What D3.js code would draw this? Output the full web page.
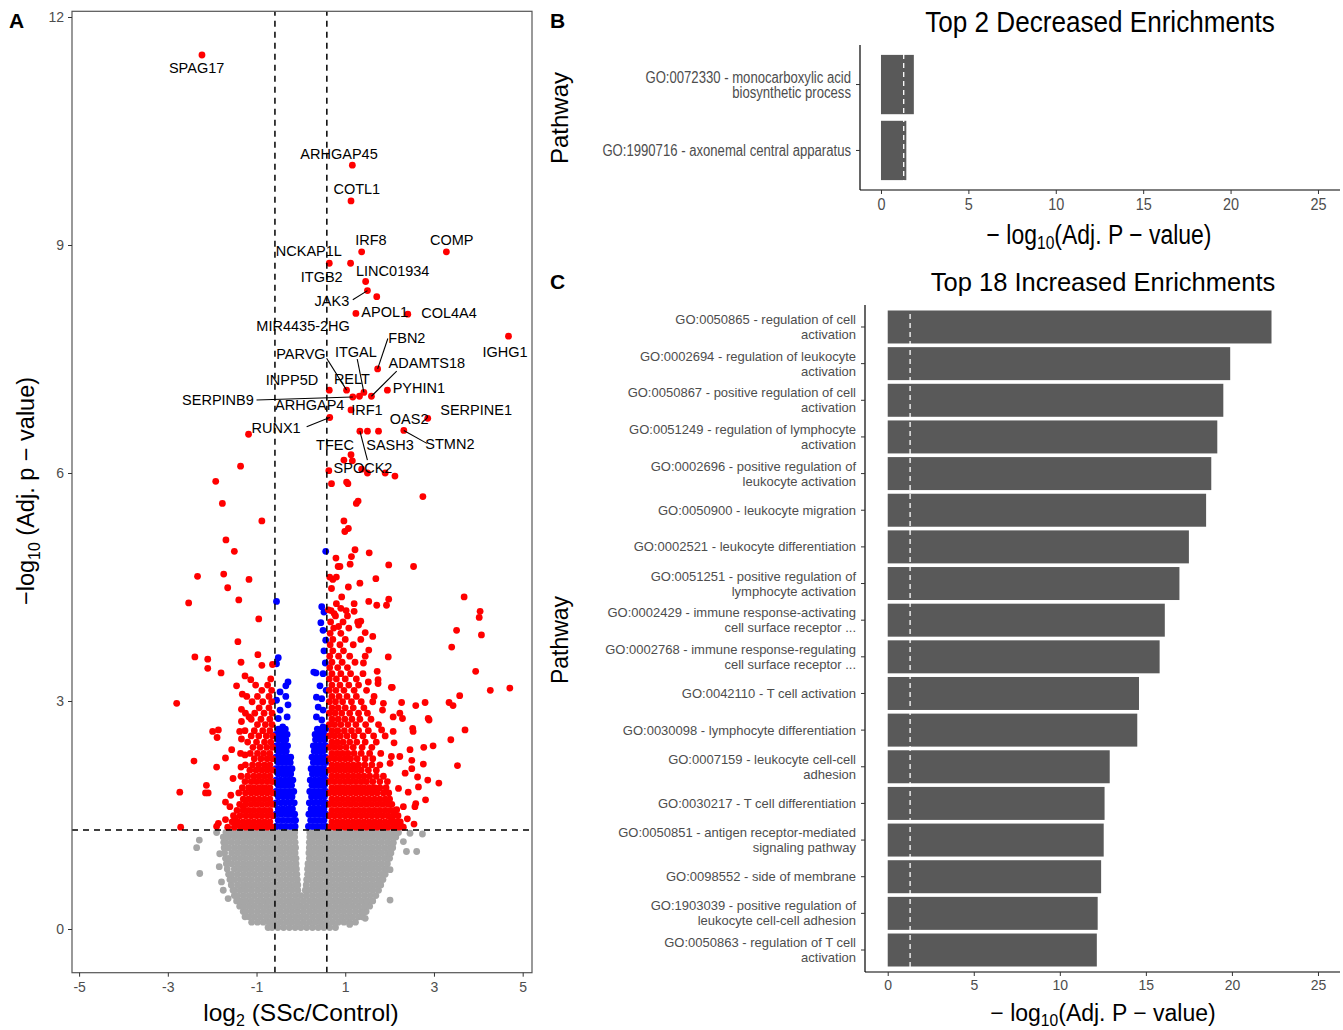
<!DOCTYPE html>
<html><head><meta charset="utf-8">
<script src="https://cdnjs.cloudflare.com/ajax/libs/d3/7.8.5/d3.min.js"></script>
<style>
body{margin:0;background:#fff}
svg{display:block}
text{font-family:"Liberation Sans",Arial,sans-serif}
</style>
</head><body>
<svg id="c" width="1343" height="1030"></svg>
<script>
// ---------------- DATA: panel A (volcano) ----------------
const xTicksA = [-5,-3,-1,1,3,5];
const yTicksA = [0,3,6,9,12];
const fcCut = 0.585;      // log2(1.5)
const pCut = 1.301;       // -log10(0.05)

// non-significant genes (grey), rows of [y, [x...]]
const grayRows = [
[0.02,[-0.74,-0.65,-0.52,-0.39,-0.26,-0.13,0.00,0.13,0.26,0.39,0.52,0.65,0.78]],
[0.09,[-1.11,-0.98,-0.85,-0.72,-0.59,-0.46,-0.33,-0.20,-0.07,0.06,0.19,0.32,0.45,0.58,0.71,0.84,0.97,1.10,1.23]],
[0.16,[-1.26,-1.17,-1.04,-0.91,-0.78,-0.65,-0.52,-0.39,-0.26,-0.13,0.00,0.13,0.26,0.39,0.52,0.65,0.78,0.91,1.04,1.17,1.30,1.38]],
[0.23,[-1.30,-1.24,-1.11,-0.98,-0.85,-0.72,-0.59,-0.46,-0.33,-0.20,-0.07,0.06,0.19,0.32,0.45,0.58,0.71,0.84,0.97,1.10,1.23,1.36,1.47]],
[0.30,[-1.38,-1.30,-1.17,-1.04,-0.91,-0.78,-0.65,-0.52,-0.39,-0.26,-0.13,0.00,0.13,0.26,0.39,0.52,0.65,0.78,0.91,1.04,1.17,1.30,1.43,1.55]],
[0.37,[-1.45,-1.37,-1.24,-1.11,-0.98,-0.85,-0.72,-0.59,-0.46,-0.33,-0.20,-0.07,0.06,0.19,0.32,0.45,0.58,0.71,0.84,0.97,1.10,1.23,1.36,1.49,1.62]],
[0.44,[-1.50,-1.43,-1.30,-1.17,-1.04,-0.91,-0.78,-0.65,-0.52,-0.39,-0.26,-0.13,0.00,0.13,0.26,0.39,0.52,0.65,0.78,0.91,1.04,1.17,1.30,1.43,1.56,1.69]],
[0.51,[-1.53,-1.50,-1.37,-1.24,-1.11,-0.98,-0.85,-0.72,-0.59,-0.46,-0.33,-0.20,-0.07,0.10,0.19,0.32,0.45,0.58,0.71,0.84,0.97,1.10,1.23,1.36,1.49,1.62,1.75]],
[0.58,[-1.57,-1.43,-1.30,-1.17,-1.04,-0.91,-0.78,-0.65,-0.52,-0.39,-0.26,-0.13,-0.07,0.12,0.26,0.39,0.52,0.65,0.78,0.91,1.04,1.17,1.30,1.43,1.56,1.69,1.80]],
[0.65,[-1.60,-1.50,-1.37,-1.24,-1.11,-0.98,-0.85,-0.72,-0.59,-0.46,-0.33,-0.20,-0.08,0.13,0.19,0.32,0.45,0.58,0.71,0.84,0.97,1.10,1.23,1.36,1.49,1.62,1.75,1.85]],
[0.72,[-1.63,-1.56,-1.43,-1.30,-1.17,-1.04,-0.91,-0.78,-0.65,-0.52,-0.39,-0.26,-0.13,-0.09,0.15,0.26,0.39,0.52,0.65,0.78,0.91,1.04,1.17,1.30,1.43,1.56,1.69,1.82,1.90]],
[0.79,[-1.66,-1.50,-1.37,-1.24,-1.11,-0.98,-0.85,-0.72,-0.59,-0.46,-0.33,-0.20,-0.10,0.15,0.19,0.32,0.45,0.58,0.71,0.84,0.97,1.10,1.23,1.36,1.49,1.62,1.75,1.88,1.94]],
[0.86,[-1.68,-1.56,-1.43,-1.30,-1.17,-1.04,-0.91,-0.78,-0.65,-0.52,-0.39,-0.26,-0.13,-0.11,0.16,0.26,0.39,0.52,0.65,0.78,0.91,1.04,1.17,1.30,1.43,1.56,1.69,1.82,1.95]],
[0.93,[-1.70,-1.63,-1.50,-1.37,-1.24,-1.11,-0.98,-0.85,-0.72,-0.59,-0.46,-0.33,-0.20,-0.11,0.19,0.32,0.45,0.58,0.71,0.84,0.97,1.10,1.23,1.36,1.49,1.62,1.75,1.88,2.00]],
[1.00,[-1.72,-1.56,-1.43,-1.30,-1.17,-1.04,-0.91,-0.78,-0.65,-0.52,-0.39,-0.26,-0.13,0.18,0.26,0.39,0.52,0.65,0.78,0.91,1.04,1.17,1.30,1.43,1.56,1.69,1.82,1.95,2.03]],
[1.07,[-1.73,-1.63,-1.50,-1.37,-1.24,-1.11,-0.98,-0.85,-0.72,-0.59,-0.46,-0.33,-0.20,-0.12,0.19,0.32,0.45,0.58,0.71,0.84,0.97,1.10,1.23,1.36,1.49,1.62,1.75,1.88,2.01,2.07]],
[1.14,[-1.74,-1.69,-1.56,-1.43,-1.30,-1.17,-1.04,-0.91,-0.78,-0.65,-0.52,-0.39,-0.26,-0.13,0.19,0.26,0.39,0.52,0.65,0.78,0.91,1.04,1.17,1.30,1.43,1.56,1.69,1.82,1.95,2.08]],
[1.21,[-1.75,-1.63,-1.50,-1.37,-1.24,-1.11,-0.98,-0.85,-0.72,-0.59,-0.46,-0.33,-0.20,-0.14,0.20,0.32,0.45,0.58,0.71,0.84,0.97,1.10,1.23,1.36,1.49,1.62,1.75,1.88,2.01,2.14]],
[1.27,[-1.69,-1.56,-1.43,-1.30,-1.17,-1.04,-0.91,-0.78,-0.65,-0.52,-0.39,-0.26,-0.14,0.20,0.26,0.39,0.52,0.65,0.78,0.91,1.04,1.17,1.30,1.43,1.56,1.69,1.82,1.95,2.08,2.20]]
];
const grayExtra = [[-1.90,1.27],[-2.29,1.17],[-2.35,1.07],[-2.28,0.73],[-1.83,0.99],[-1.84,0.82],[-1.79,0.62],[-1.75,0.51],[-1.64,0.40],
[2.16,1.27],[2.46,1.26],[2.74,1.25],[2.38,1.02],[2.61,1.02],[2.08,1.13],[2.31,1.15],[2.01,0.78],[2.01,0.38],[1.40,0.21],[1.45,0.14],[1.10,0.06]];

// significant but small fold change (blue)
const blueRows = [
[1.35,[-0.56,-0.45,-0.34,-0.23,-0.13, 0.17,0.27,0.37,0.47,0.56]],
[1.43,[-0.51,-0.40,-0.29,-0.18,-0.12, 0.22,0.32,0.42,0.52]],
[1.51,[-0.56,-0.45,-0.34,-0.24,-0.14, 0.18,0.28,0.38,0.48,0.56]],
[1.58,[-0.51,-0.40,-0.29,-0.19, 0.23,0.33,0.43,0.52]],
[1.66,[-0.56,-0.45,-0.35,-0.25,-0.15, 0.19,0.29,0.39,0.49,0.56]],
[1.74,[-0.51,-0.40,-0.30,-0.20, 0.24,0.34,0.44,0.53]],
[1.81,[-0.56,-0.46,-0.36,-0.26,-0.16, 0.20,0.30,0.40,0.50,0.56]],
[1.89,[-0.51,-0.41,-0.31,-0.21, 0.25,0.35,0.45,0.53]],
[1.96,[-0.56,-0.46,-0.36,-0.27,-0.18, 0.21,0.31,0.41,0.50,0.56]],
[2.04,[-0.51,-0.41,-0.32,-0.23, 0.26,0.36,0.46,0.54]],
[2.11,[-0.56,-0.46,-0.37,-0.28,-0.20, 0.23,0.33,0.43,0.52]],
[2.19,[-0.51,-0.42,-0.33,-0.24, 0.28,0.38,0.48,0.56]],
[2.26,[-0.56,-0.47,-0.38,-0.29,-0.23, 0.25,0.35,0.45,0.55]],
[2.34,[-0.51,-0.42,-0.33, 0.30,0.40,0.50]],
[2.41,[-0.56,-0.47,-0.38,-0.30, 0.28,0.38,0.48,0.56]],
[2.49,[-0.51,-0.42,-0.34, 0.33,0.43,0.53]],
[2.56,[-0.56,-0.47,-0.38,-0.31, 0.32,0.42,0.52]],
[2.63,[-0.51,-0.42,-0.35, 0.37,0.47,0.56]]
];
const blueExtra = [[-0.55,4.31],[-0.51,3.57],[-0.55,3.49],[-0.29,3.25],[-0.34,3.20],[-0.47,3.12],[-0.55,3.01],[-0.34,3.06],[-0.29,2.95],
[-0.47,2.88],[-0.51,2.77],[-0.31,2.79],[-0.41,2.66],
[0.56,4.97],[0.47,4.24],[0.52,4.17],[0.45,4.03],[0.50,3.93],[0.52,3.66],[0.29,3.38],[0.34,3.37],[0.50,3.36],[0.43,3.20],
[0.57,3.14],[0.35,3.05],[0.47,3.03],[0.39,2.92],[0.50,2.88],[0.35,2.79],[0.47,2.75],[0.50,2.66],[0.55,3.50],[0.56,3.80]];

// significant and |log2FC| > cut (red)
const redRows = [
[1.34,[-1.65,-1.50,-1.36,-1.24,-1.12,-1.00,-0.88,-0.76,-0.64, 0.64,0.76,0.88,1.00,1.12,1.24,1.36,1.48,1.60,1.72,1.84,1.96,2.08,2.20,2.31]],
[1.41,[-1.55,-1.42,-1.30,-1.18,-1.06,-0.94,-0.82,-0.70, 0.70,0.82,0.94,1.06,1.18,1.30,1.42,1.54,1.66,1.78,1.90,2.02,2.14,2.24]],
[1.49,[-1.52,-1.37,-1.24,-1.12,-1.00,-0.88,-0.76,-0.64, 0.64,0.76,0.88,1.00,1.12,1.24,1.36,1.48,1.60,1.72,1.84,1.96,2.08,2.19]],
[1.56,[-1.44,-1.30,-1.18,-1.06,-0.94,-0.82,-0.70, 0.70,0.82,0.94,1.06,1.18,1.30,1.42,1.54,1.66,1.78,1.90,2.02,2.12]],
[1.64,[-1.38,-1.24,-1.12,-1.00,-0.88,-0.76,-0.64, 0.64,0.76,0.88,1.00,1.12,1.24,1.36,1.48,1.60,1.72,1.84,1.96,2.05]],
[1.71,[-1.30,-1.18,-1.06,-0.94,-0.82,-0.70, 0.70,0.82,0.94,1.06,1.18,1.30,1.42,1.54,1.66,1.78,1.90,2.00]],
[1.79,[-1.40,-1.25,-1.12,-1.00,-0.88,-0.76,-0.64, 0.64,0.76,0.88,1.00,1.12,1.24,1.36,1.48,1.60,1.72,1.86,1.98]],
[1.86,[-1.32,-1.18,-1.06,-0.94,-0.82,-0.70, 0.70,0.82,0.94,1.06,1.18,1.30,1.42,1.54,1.66,1.78,1.92]],
[1.94,[-1.26,-1.12,-1.00,-0.88,-0.76,-0.64, 0.64,0.76,0.88,1.00,1.12,1.24,1.36,1.48,1.62,1.78,1.95]],
[2.01,[-1.35,-1.20,-1.06,-0.94,-0.82,-0.70, 0.70,0.82,0.94,1.06,1.18,1.30,1.42,1.55,1.70,1.86]],
[2.09,[-1.15,-1.01,-0.88,-0.76,-0.64, 0.64,0.76,0.88,1.00,1.12,1.24,1.36,1.52,1.70]],
[2.16,[-1.25,-1.09,-0.95,-0.82,-0.70, 0.70,0.82,0.94,1.06,1.18,1.30,1.44,1.60,1.78]],
[2.24,[-1.05,-0.90,-0.76,-0.64, 0.64,0.76,0.88,1.00,1.12,1.27,1.45,1.62]],
[2.31,[-1.36,-1.14,-0.98,-0.84,-0.70, 0.70,0.82,0.94,1.06,1.20,1.36,1.55,1.80]],
[2.39,[-1.08,-0.92,-0.77,-0.64, 0.64,0.76,0.88,1.02,1.18,1.38,1.60]],
[2.46,[-1.20,-1.00,-0.82,-0.68, 0.70,0.82,0.95,1.10,1.26,1.45,1.70]],
[2.54,[-1.12,-0.95,-0.78,-0.64, 0.64,0.76,0.89,1.04,1.20,1.40,1.64,1.90]],
[2.61,[-1.26,-1.05,-0.86,-0.70, 0.70,0.83,0.98,1.14,1.30,1.52]],
[2.69,[-0.98,-0.80,-0.65, 0.64,0.76,0.90,1.06,1.24,1.46,1.75]],
[2.76,[-1.12,-0.90,-0.70, 0.70,0.84,0.99,1.15,1.33,1.58]],
[2.84,[-1.25,-1.04,-0.83,-0.65, 0.64,0.77,0.92,1.10,1.30,1.50]],
[2.91,[-0.94,-0.72, 0.70,0.84,1.00,1.18,1.42]],
[2.99,[-1.10,-0.86,-0.66, 0.64,0.78,0.94,1.14,1.36,1.62]],
[3.06,[-1.22,-0.98,-0.72, 0.70,0.86,1.04,1.25]],
[3.14,[-0.88,-0.66, 0.64,0.79,0.97,1.20,1.48]],
[3.21,[-1.02,-0.75, 0.70,0.88,1.08,1.30]],
[3.29,[-0.68, 0.64,0.80,1.00,1.25]],
[3.36,[0.70,0.90,1.12,1.40]],
[3.44,[0.65,0.83,1.05]],
[3.51,[0.70,0.93,1.22]],
[3.59,[0.65,0.85,1.10,1.45]],
[3.66,[0.72,0.96]],
[3.74,[0.66,0.88,1.18]],
[3.81,[0.72,1.00,1.35]],
[3.89,[0.66,0.90]],
[3.96,[0.74,1.08]],
[4.04,[0.67,0.95,1.28]],
[4.12,[0.78]],
[4.19,[0.68,1.02]],
[4.28,[0.80,1.20]]
];
const redExtra = [
[-2.23,11.50],[-1.18,6.51],[-1.36,6.09],[-1.92,5.89],[-1.77,5.60],[-0.88,5.37],[-1.69,5.12],[-1.50,4.97],[-2.33,4.64],[-1.74,4.67],
[-1.17,4.60],[-1.65,4.49],[-2.53,4.29],[-1.40,4.33],[-0.95,4.08],[-1.42,3.78],[-2.39,3.58],[-2.10,3.55],[-2.10,3.43],[-1.80,3.37],
[-1.35,3.51],[-0.97,3.61],[-0.88,3.47],[-0.64,3.48],[-1.26,3.33],[-1.45,3.20],[-1.13,3.28],[-2.80,2.97],[-1.32,3.09],[-1.34,2.89],
[-1.99,2.60],[-1.86,2.62],[-1.89,2.52],[-1.56,2.36],[-1.34,2.73],[-1.38,2.60],[-1.34,2.50],[-1.17,2.79],[-2.41,2.21],[-1.70,2.25],
[-1.90,2.13],[-1.35,2.13],[-1.53,1.98],[-1.26,2.29],[-2.13,1.89],[-2.09,1.79],[-2.15,1.79],[-2.73,1.80],[-1.58,1.76],[-1.70,1.67],
[-1.60,1.61],[-1.49,1.46],[-1.70,1.44],[-1.86,1.39],[-1.90,1.35],[-2.71,1.34],[-1.47,1.37],[-1.30,1.61],[-1.26,1.70],
[1.16,10.05],[1.13,9.58],[1.37,8.91],[3.28,8.91],[0.64,8.76],[1.12,8.76],[1.46,8.52],[1.50,8.40],[1.71,8.32],[1.24,8.10],
[2.41,8.09],[4.68,7.80],[1.73,7.37],[1.03,7.09],[1.42,7.06],[1.59,7.01],[1.95,7.09],[0.64,7.09],[1.32,7.01],[1.17,7.00],
[1.13,6.83],[2.86,6.72],[0.65,6.73],[1.33,6.55],[1.50,6.55],[1.75,6.55],[2.32,6.56],[0.97,6.17],[1.13,6.24],[1.16,6.16],
[0.63,6.03],[1.50,6.00],[1.90,6.00],[2.12,5.96],[1.37,6.05],[0.69,5.86],[1.03,5.88],[1.06,5.86],[1.29,5.63],[2.75,5.69],
[1.25,5.60],[0.97,5.37],[1.07,5.27],[0.99,5.23],[1.22,4.99],[1.54,4.95],[0.79,4.88],[1.14,4.90],[0.88,4.77],[0.84,4.77],
[1.11,4.80],[1.98,4.79],[2.54,4.77],[0.65,4.63],[0.72,4.60],[0.80,4.63],[1.69,4.61],[1.33,4.55],[1.07,4.50],[0.69,4.48],
[3.68,4.37],[0.92,4.37],[1.98,4.34],[1.93,4.26],[1.53,4.31],[1.71,4.26],[4.04,4.18],[4.02,4.10],[3.51,3.93],[4.07,3.87],
[3.40,3.71],[1.97,3.58],[3.94,3.39],[4.27,3.14],[4.71,3.17],[3.58,3.07],[3.34,2.98],[3.43,2.94],[2.80,2.98],[2.59,2.94],
[2.27,2.98],[1.72,3.39],[2.06,3.18],[1.53,3.67],[0.62,4.20],[0.75,4.15],[0.90,4.22],[1.05,4.12],[1.20,4.18],[1.35,4.05],
[0.85,3.98],[1.30,4.00],[1.45,3.90],[1.62,3.85],[1.74,3.28],[1.74,3.23],[1.41,3.50],[1.52,3.25],[1.65,3.06],[1.86,2.97],
[1.84,2.88],[1.82,2.62],[2.04,3.18],[2.08,2.60],[2.23,2.27],[2.04,2.27],[2.01,2.18],[2.31,1.61],[2.27,1.35],[2.16,1.57],
[3.70,2.62],[3.38,2.49],[3.53,2.15],[3.11,1.92],[2.81,1.70],[2.86,1.96],[2.65,1.87],[2.59,1.65],[2.57,1.61],[2.87,2.77],
[2.89,2.75],[2.98,2.41],[2.77,2.39],[2.52,2.64],[2.53,2.60],[2.46,2.36],[2.50,2.22],[2.76,2.17],[2.63,2.00],[2.50,2.11],
[2.23,2.84],[2.29,2.77],[2.08,2.79],[2.10,2.45],[2.35,2.05],[2.20,1.85],[2.42,1.80],[2.05,1.45],[2.40,1.45],[2.55,1.38]
];

// gene labels (ggrepel placement, data units) and connector segments
const geneLabels = [
["SPAG17",-2.35,11.33],["ARHGAP45",0.86,10.20],["COTL1",1.26,9.74],["IRF8",1.58,9.07],["COMP",3.40,9.07],
["NCKAP1L",0.18,8.92],["ITGB2",0.47,8.58],["LINC01934",2.07,8.66],["JAK3",0.70,8.26],["APOL1",1.89,8.12],
["COL4A4",3.34,8.11],["MIR4435-2HG",0.05,7.93],["IGHG1",4.60,7.59],["FBN2",2.39,7.78],["PARVG",0.00,7.57],
["ITGAL",1.24,7.59],["ADAMTS18",2.84,7.45],["INPP5D",-0.20,7.22],["RELT",1.15,7.24],["PYHIN1",2.66,7.12],
["SERPINB9",-1.87,6.96],["ARHGAP4",0.20,6.89],["IRF1",1.49,6.83],["SERPINE1",3.95,6.83],["OAS2",2.44,6.71],
["RUNX1",-0.56,6.59],["TFEC",0.77,6.37],["SASH3",2.01,6.37],["STMN2",3.36,6.38],["SPOCK2",1.40,6.07]
];
const labelSegments = [
[1.17,8.28,1.50,8.40],[1.96,7.77,1.73,7.37],[0.58,7.51,1.03,7.09],[1.27,7.50,1.42,7.06],[2.16,7.34,1.59,7.01],
[-1.00,6.96,1.17,7.00],[0.13,6.61,0.65,6.73],[2.84,6.39,2.32,6.56],[1.50,6.17,1.33,6.55]
];

// ---------------- DATA: panel B ----------------
const decTerms = ["GO:0072330 - monocarboxylic acid\nbiosynthetic process","GO:1990716 - axonemal central apparatus"];
const decValues = [1.88, 1.45];
// ---------------- DATA: panel C ----------------
const incTerms = [
"GO:0050865 - regulation of cell\nactivation",
"GO:0002694 - regulation of leukocyte\nactivation",
"GO:0050867 - positive regulation of cell\nactivation",
"GO:0051249 - regulation of lymphocyte\nactivation",
"GO:0002696 - positive regulation of\nleukocyte activation",
"GO:0050900 - leukocyte migration",
"GO:0002521 - leukocyte differentiation",
"GO:0051251 - positive regulation of\nlymphocyte activation",
"GO:0002429 - immune response-activating\ncell surface receptor ...",
"GO:0002768 - immune response-regulating\ncell surface receptor ...",
"GO:0042110 - T cell activation",
"GO:0030098 - lymphocyte differentiation",
"GO:0007159 - leukocyte cell-cell\nadhesion",
"GO:0030217 - T cell differentiation",
"GO:0050851 - antigen receptor-mediated\nsignaling pathway",
"GO:0098552 - side of membrane",
"GO:1903039 - positive regulation of\nleukocyte cell-cell adhesion",
"GO:0050863 - regulation of T cell\nactivation"
];
const incValues = [22.3,19.9,19.5,19.15,18.8,18.5,17.5,16.95,16.1,15.8,14.6,14.5,12.9,12.6,12.55,12.4,12.2,12.15];
const barTicks = [0,5,10,15,20,25];
const sigLine = 1.3;

// ---------------- DRAW ----------------
const svg = d3.select("#c");
const tickCol = "#4d4d4d";

// ===== Panel A =====
const xA = d3.scaleLinear().domain([-5.16,5.21]).range([72,532]);
const yA = d3.scaleLinear().domain([-0.575,12.075]).range([972.7,11.3]);
const gA = svg.append("g");

function expand(rows){ const out=[]; rows.forEach(r=>r[1].forEach(x=>out.push([x,r[0]]))); return out; }
const grayPts = expand(grayRows).concat(grayExtra);
const bluePts = expand(blueRows).concat(blueExtra);
const redPts = expand(redRows).concat(redExtra);
const R = 3.4;
gA.append("g").selectAll("circle").data(grayPts).join("circle")
  .attr("cx",d=>xA(d[0])).attr("cy",d=>yA(d[1])).attr("r",R).attr("fill","#a6a6a6");
gA.append("g").selectAll("circle").data(bluePts).join("circle")
  .attr("cx",d=>xA(d[0])).attr("cy",d=>yA(d[1])).attr("r",R).attr("fill","#0000ff");
gA.append("g").selectAll("circle").data(redPts).join("circle")
  .attr("cx",d=>xA(d[0])).attr("cy",d=>yA(d[1])).attr("r",R).attr("fill","#ff0000");

// threshold lines
[-fcCut, fcCut].forEach(v=>{
  gA.append("line").attr("x1",xA(v)).attr("x2",xA(v)).attr("y1",yA.range()[0]).attr("y2",yA.range()[1])
   .attr("stroke","#000").attr("stroke-width",1.5).attr("stroke-dasharray","6,5");
});
gA.append("line").attr("x1",72).attr("x2",532).attr("y1",yA(pCut)).attr("y2",yA(pCut))
  .attr("stroke","#000").attr("stroke-width",1.5).attr("stroke-dasharray","6,5");

// segments and labels
gA.append("g").selectAll("line").data(labelSegments).join("line")
  .attr("x1",d=>xA(d[0])).attr("y1",d=>yA(d[1])).attr("x2",d=>xA(d[2])).attr("y2",d=>yA(d[3]))
  .attr("stroke","#000").attr("stroke-width",1.1);
gA.append("g").selectAll("text").data(geneLabels).join("text")
  .attr("x",d=>xA(d[1])).attr("y",d=>yA(d[2])).attr("text-anchor","middle").attr("dominant-baseline","central")
  .attr("font-size",14.5).attr("fill","#000").text(d=>d[0]);

// border + axes
gA.append("rect").attr("x",72).attr("y",11.3).attr("width",460).attr("height",972.7-11.3)
  .attr("fill","none").attr("stroke","#555").attr("stroke-width",1.2);
const axAx = gA.append("g").attr("transform","translate(0,972.7)")
  .call(d3.axisBottom(xA).tickValues(xTicksA).tickSize(4).tickPadding(5).tickFormat(d3.format("d")));
const axAy = gA.append("g").attr("transform","translate(72,0)")
  .call(d3.axisLeft(yA).tickValues(yTicksA).tickSize(4).tickPadding(4).tickFormat(d3.format("d")));
[axAx,axAy].forEach(a=>{a.select(".domain").remove(); a.selectAll("line").attr("stroke","#333");
  a.selectAll("text").attr("font-size",14).attr("fill",tickCol).attr("font-family","Liberation Sans, Arial, sans-serif");});
axAx.selectAll("text").text(d=>d<0?"-"+Math.abs(d):d);

// axis titles A
const tA = gA.append("text").attr("x",301).attr("y",1021).attr("text-anchor","middle").attr("font-size",24.5);
tA.append("tspan").text("log");
tA.append("tspan").attr("font-size",16).attr("dy",5).text("2");
tA.append("tspan").attr("dy",-5).text(" (SSc/Control)");
const tAy = gA.append("text").attr("transform","translate(34,491) rotate(-90)").attr("text-anchor","middle").attr("font-size",23.5);
tAy.append("tspan").text("\u2212log");
tAy.append("tspan").attr("font-size",16).attr("dy",6).text("10");
tAy.append("tspan").attr("dy",-6).text(" (Adj. p \u2212 value)");

// panel letters
svg.append("text").attr("x",9).attr("y",28).attr("font-size",21).attr("font-weight","bold").text("A");
svg.append("text").attr("x",550).attr("y",28).attr("font-size",21).attr("font-weight","bold").text("B");
svg.append("text").attr("x",550).attr("y",289).attr("font-size",21).attr("font-weight","bold").text("C");

// ===== bar panel helper =====
function barPanel(opt){
  const g = svg.append("g");
  const sx = opt.sx;
  const x = d3.scaleLinear().domain(opt.xdom).range([opt.left,opt.right]);
  const y = d3.scaleBand().domain(opt.terms).range([opt.top,opt.bottom]).paddingInner(0.1).paddingOuter(0.15);
  g.selectAll("rect.bar").data(opt.terms).join("rect").attr("class","bar")
    .attr("x",x(0)).attr("y",d=>y(d)).attr("height",y.bandwidth())
    .attr("width",(d,i)=>x(opt.values[i])-x(0)).attr("fill","#595959");
  g.append("line").attr("x1",x(sigLine)).attr("x2",x(sigLine)).attr("y1",opt.top).attr("y2",opt.bottom)
    .attr("stroke","#fff").attr("stroke-width",1.3).attr("stroke-dasharray","5,4");
  const ax = g.append("g").attr("transform",`translate(0,${opt.bottom})`)
    .call(d3.axisBottom(x).tickValues(barTicks).tickSize(4).tickPadding(4));
  ax.select(".domain").attr("d",`M${opt.left},0H${opt.right}`).attr("stroke","#000").attr("stroke-width",1.2);
  ax.selectAll("line").attr("stroke","#333");
  ax.selectAll("text").attr("font-size",opt.tickSize).attr("fill",tickCol).attr("font-family",null)
    .attr("transform",`scale(${sx},1)`);
  const ay = g.append("g").attr("transform",`translate(${opt.left},0)`)
    .call(d3.axisLeft(y).tickSize(4).tickPadding(5).tickFormat(""));
  ay.select(".domain").attr("d",`M0,${opt.top}V${opt.bottom}`).attr("stroke","#000").attr("stroke-width",1.2);
  ay.selectAll("line").attr("stroke","#333");
  // multi-line labels
  opt.terms.forEach(t=>{
    const lines = t.split("\n");
    const cy = y(t)+y.bandwidth()/2;
    const tx = g.append("text").attr("transform",`translate(${opt.left-9},${cy}) scale(${opt.lsx},1)`)
      .attr("text-anchor","end").attr("font-size",opt.labSize).attr("fill",tickCol);
    lines.forEach((l,i)=>{
      tx.append("tspan").attr("x",0).attr("y",(i-(lines.length-1)/2)*opt.lineH).attr("dominant-baseline","central").text(l);
    });
  });
  // title
  g.append("text").attr("transform",`translate(${opt.titleX},${opt.titleY}) scale(${opt.tsx},1)`).attr("text-anchor","middle")
    .attr("font-size",opt.titleSize).text(opt.title);
  // x title
  const xt = g.append("text").attr("transform",`translate(${opt.xtX},${opt.xtY}) scale(${sx},1)`).attr("text-anchor","middle").attr("font-size",opt.xtSize);
  xt.append("tspan").text("\u2212 log");
  xt.append("tspan").attr("font-size",opt.xtSize*0.68).attr("dy",5).text("10");
  xt.append("tspan").attr("dy",-5).text("(Adj. P \u2212 value)");
  // y title
  g.append("text").attr("transform",`translate(${opt.ytX},${opt.ytY}) rotate(-90)`)
    .attr("text-anchor","middle").attr("font-size",opt.ytSize).text("Pathway");
}

barPanel({terms:decTerms, values:decValues, xdom:[-1.2,26.26], left:860, right:1340, top:45, bottom:190,
  sx:0.85, lsx:0.82, tsx:0.9, tickSize:17, labSize:16, lineH:15, title:"Top 2 Decreased Enrichments", titleX:1100, titleY:32, titleSize:29,
  xtX:1099, xtY:244, xtSize:27, ytX:568, ytY:118, ytSize:24});
barPanel({terms:incTerms, values:incValues, xdom:[-1.32,26.28], left:865, right:1340, top:305, bottom:972,
  sx:1, lsx:1, tsx:1, tickSize:14, labSize:13, lineH:15, title:"Top 18 Increased Enrichments", titleX:1103, titleY:291, titleSize:25.5,
  xtX:1103, xtY:1021, xtSize:23, ytX:568, ytY:640, ytSize:23});
</script>
</body></html>
